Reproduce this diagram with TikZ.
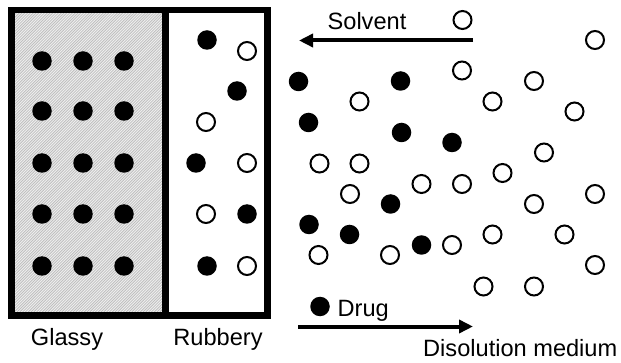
\documentclass[tikz,border=0pt]{standalone}
\usepackage{fontspec}
\setmainfont{Liberation Sans}
\usetikzlibrary{arrows.meta}
\begin{document}
\begin{tikzpicture}[x=1pt,y=-1pt,
  drug/.style={circle,fill=black,draw=none,minimum size=19.5pt,inner sep=0pt},
  solv/.style={circle,fill=white,draw=black,line width=2pt,minimum size=18pt,inner sep=0pt},
  lbl/.style={font=\fontsize{23.6}{27}\selectfont,inner sep=0pt},
  flow/.style={line width=4pt,-{Triangle[length=14pt,width=13pt]}},
  frame/.style={line width=6.5pt}]
\useasboundingbox (0,0) rectangle (621,363);
% glassy region with hatching
\fill[gray!12] (15,13) rectangle (162.5,312);
\begin{scope}
\clip (15,13) rectangle (162.5,312);
\foreach \i in {0,...,170}{
  \draw[gray!50,line width=0.8pt] (15+2.8*\i-320,312) -- ++(320,-320);
}
\end{scope}
\fill[white] (168.5,13) rectangle (264.5,312);
% frame
\draw[frame] (11.5,10) rectangle (267.5,315.5);
\draw[frame] (165.5,10) -- (165.5,315.5);
% glassy drug particles
\foreach \c [count=\ci] in {42,83,124}{
  \foreach \r [count=\ri] in {61,111,163,214,266}{
    \node[drug] (g\ci\ri) at (\c,\r) {};
  }
}
% rubbery layer
\node[drug] (r1) at (207,40) {};
\node[solv] (r2) at (247,51) {};
\node[drug] (r3) at (237,91) {};
\node[solv] (r4) at (206,122) {};
\node[drug] (r5) at (196,163) {};
\node[solv] (r6) at (247,163) {};
\node[solv] (r7) at (206,214) {};
\node[drug] (r8) at (247,214) {};
\node[drug] (r9) at (207,266) {};
\node[solv] (r10) at (247,266) {};
% medium: filled
\node[drug] (m1) at (298.5,81.5) {};
\node[drug] (m2) at (400.5,81) {};
\node[drug] (m3) at (308.5,122.5) {};
\node[drug] (m4) at (401.5,132.5) {};
\node[drug] (m5) at (452,142.5) {};
\node[drug] (m6) at (390.5,204) {};
\node[drug] (m7) at (309,224.5) {};
\node[drug] (m8) at (349.5,234.5) {};
\node[drug] (m9) at (421.5,245) {};
% medium: open
\node[solv] (s1) at (462.5,20) {};
\node[solv] (s2) at (595,40) {};
\node[solv] (s3) at (462,70.5) {};
\node[solv] (s4) at (534,81) {};
\node[solv] (s5) at (492.5,101.5) {};
\node[solv] (s6) at (574.5,111.5) {};
\node[solv] (s7) at (359.5,101.5) {};
\node[solv] (s8) at (319.5,163.5) {};
\node[solv] (s9) at (359.5,163.5) {};
\node[solv] (s10) at (544,152.5) {};
\node[solv] (s11) at (502.5,173) {};
\node[solv] (s12) at (421.5,184) {};
\node[solv] (s13) at (462,184) {};
\node[solv] (s14) at (350,194) {};
\node[solv] (s15) at (595,194) {};
\node[solv] (s16) at (534,204) {};
\node[solv] (s17) at (492.5,234.5) {};
\node[solv] (s18) at (564.5,234.5) {};
\node[solv] (s19) at (452,245) {};
\node[solv] (s20) at (318.5,255) {};
\node[solv] (s21) at (390,255) {};
\node[solv] (s22) at (595,265) {};
\node[solv] (s23) at (483.5,286.5) {};
\node[solv] (s24) at (534,286.5) {};
% legend drug
\node[drug] (legdrug) at (320,306.5) {};
\node[lbl,anchor=base west] (drugtxt) at (337.5,316.5) {Drug};
% arrows
\coordinate (solvfrom) at (473,40.5);
\coordinate (solvto) at (299,40.5);
\draw[flow] (solvfrom) -- (solvto);
\node[lbl,anchor=base] (solvtxt) at (367,30) {Solvent};
\coordinate (medfrom) at (298,326.5);
\coordinate (medto) at (473,326.5);
\draw[flow] (medfrom) -- (medto);
\node[lbl,anchor=base west] (medtxt) at (423,356.5) {Disolution medium};
% labels
\node[lbl,anchor=base] (glassy) at (67,345) {Glassy};
\node[lbl,anchor=base] (rubbery) at (218,345) {Rubbery};
\end{tikzpicture}
\end{document}
